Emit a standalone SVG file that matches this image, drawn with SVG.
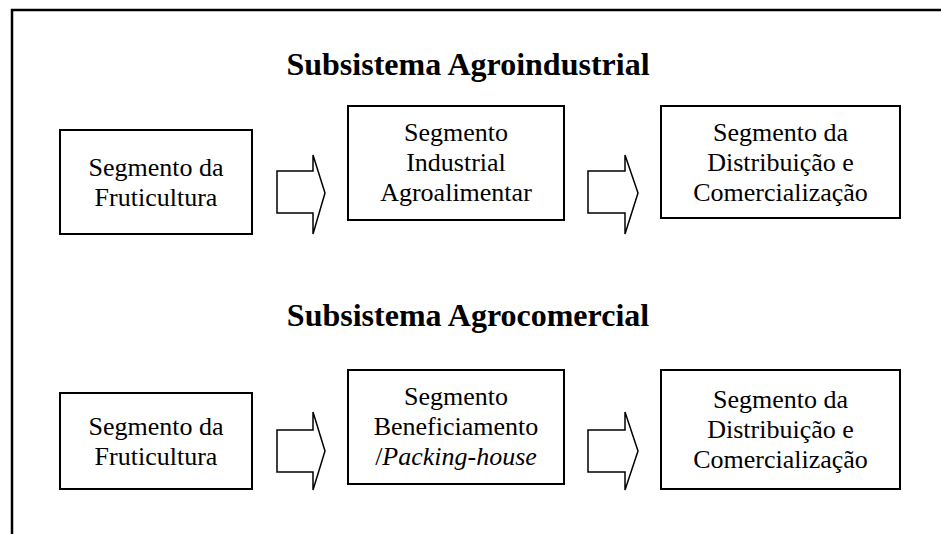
<svg xmlns="http://www.w3.org/2000/svg" width="941" height="534" viewBox="0 0 941 534">
<style>
.box{fill:#fff;stroke:#000;stroke-width:2}
.arr{fill:#fff;stroke:#000;stroke-width:1.5;stroke-linejoin:miter}
.t{font-family:'Liberation Serif','Times New Roman',serif;font-size:26px;fill:#000;text-anchor:middle}
.h{font-family:'Liberation Serif','Times New Roman',serif;font-size:32px;font-weight:bold;fill:#000;text-anchor:middle}
.frame{fill:none;stroke:#000;stroke-width:2.5}
</style>
<rect width="941" height="534" fill="#fff"/>
<path class="frame" d="M12 534 V10 H941"/>
<text class="h" x="468" y="75">Subsistema Agroindustrial</text>
<text class="h" x="468" y="326">Subsistema Agrocomercial</text>
<g id="n1">
<rect class="box" x="60" y="130" width="192" height="104"/>
<text class="t" x="156" y="176">Segmento da</text>
<text class="t" x="156" y="206">Fruticultura</text>
</g>
<g id="n2">
<rect class="box" x="348" y="106" width="216" height="114"/>
<text class="t" x="456" y="141">Segmento</text>
<text class="t" x="456" y="171">Industrial</text>
<text class="t" x="456" y="201">Agroalimentar</text>
</g>
<g id="n3">
<rect class="box" x="661" y="106" width="239" height="112"/>
<text class="t" x="780.5" y="141">Segmento da</text>
<text class="t" x="780.5" y="171">Distribuição e</text>
<text class="t" x="780.5" y="201">Comercialização</text>
</g>
<g id="n4">
<rect class="box" x="60" y="393" width="192" height="96"/>
<text class="t" x="156" y="435">Segmento da</text>
<text class="t" x="156" y="465">Fruticultura</text>
</g>
<g id="n5">
<rect class="box" x="348" y="370" width="216" height="114"/>
<text class="t" x="456" y="405">Segmento</text>
<text class="t" x="456" y="435">Beneficiamento</text>
<text class="t" x="456" y="465">/<tspan font-style="italic">Packing-house</tspan></text>
</g>
<g id="n6">
<rect class="box" x="661" y="370" width="239" height="119"/>
<text class="t" x="780.5" y="408">Segmento da</text>
<text class="t" x="780.5" y="438">Distribuição e</text>
<text class="t" x="780.5" y="468">Comercialização</text>
</g>
<g id="connectors">
<path class="arr" d="M277 171 H313 V155 L325 193 L313 234 V213 H277 Z"/>
<path class="arr" d="M588 171 H625 V155 L638 193 L625 234 V213 H588 Z"/>
<path class="arr" d="M277 430 H313 V412 L325 451 L313 490 V472 H277 Z"/>
<path class="arr" d="M588 430 H625 V412 L638 451 L625 490 V472 H588 Z"/>
</g>
</svg>
